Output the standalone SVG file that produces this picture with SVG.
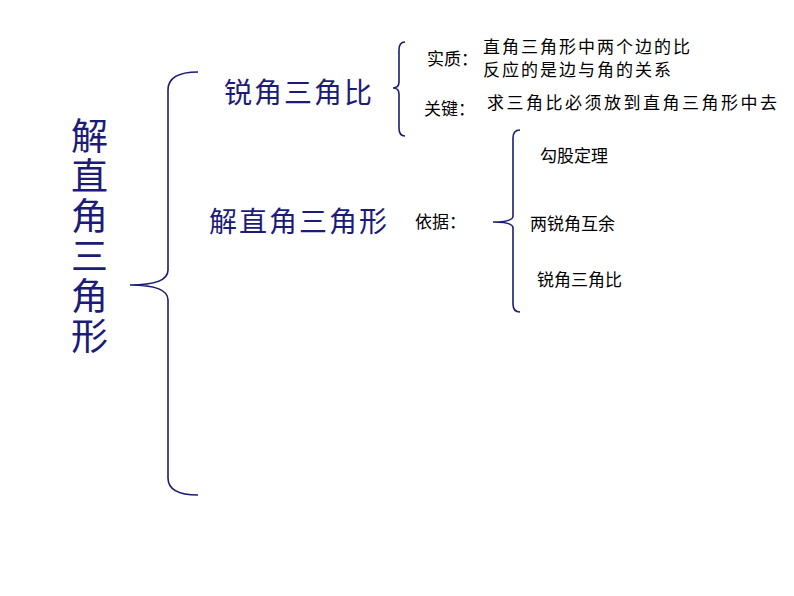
<svg xmlns="http://www.w3.org/2000/svg" width="794" height="596" viewBox="0 0 794 596">
<style>
.big{font-family:"Noto Sans CJK SC",sans-serif;fill:#1c1c78}
.sm{font-family:"Noto Sans CJK SC",sans-serif;font-size:17px;fill:#000}
.br{fill:none;stroke:#1c1c78;stroke-width:1.6}
</style>
<rect width="794" height="596" fill="#fff"/>
<g id="title"><text class="big" font-size="37">
<tspan x="71" y="150">解</tspan><tspan x="71" y="190">直</tspan><tspan x="71" y="230">角</tspan><tspan x="71" y="270">三</tspan><tspan x="71" y="310">角</tspan><tspan x="71" y="350">形</tspan></text></g>
<g id="connectors">
<path class="br" d="M198,72 Q168,72 168,90 L168,270 Q168,285 130,285 Q168,285 168,300 L168,478 Q168,495 198,495"/>
<path class="br" d="M405,42 Q399,42 399,50 L399,82 Q399,88 393,88 Q399,88 399,94 L399,128 Q399,136 405,136"/>
<path class="br" d="M520,130 Q513,130 513,138 L513,216 Q513,222 493,222 Q513,222 513,228 L513,304 Q513,312 520,312"/>
</g>
<g id="n1"><text class="big" font-size="28" x="224" y="103" letter-spacing="2">锐角三角比</text></g>
<g id="n2"><text class="big" font-size="28" x="209" y="232" letter-spacing="2">解直角三角形</text></g>
<g id="n3"><text class="sm" x="427" y="65">实质：</text>
<text class="sm" x="483" y="53" letter-spacing="2">直角三角形中两个边的比</text>
<text class="sm" x="483" y="76" letter-spacing="2">反应的是边与角的关系</text></g>
<g id="n4"><text class="sm" x="424" y="115">关键：</text>
<text class="sm" x="487" y="109" letter-spacing="2.5">求三角比必须放到直角三角形中去</text></g>
<g id="n5"><text class="sm" x="415" y="228">依据：</text>
<text class="sm" x="540" y="162">勾股定理</text>
<text class="sm" x="530" y="230">两锐角互余</text>
<text class="sm" x="537" y="286">锐角三角比</text></g>
</svg>
